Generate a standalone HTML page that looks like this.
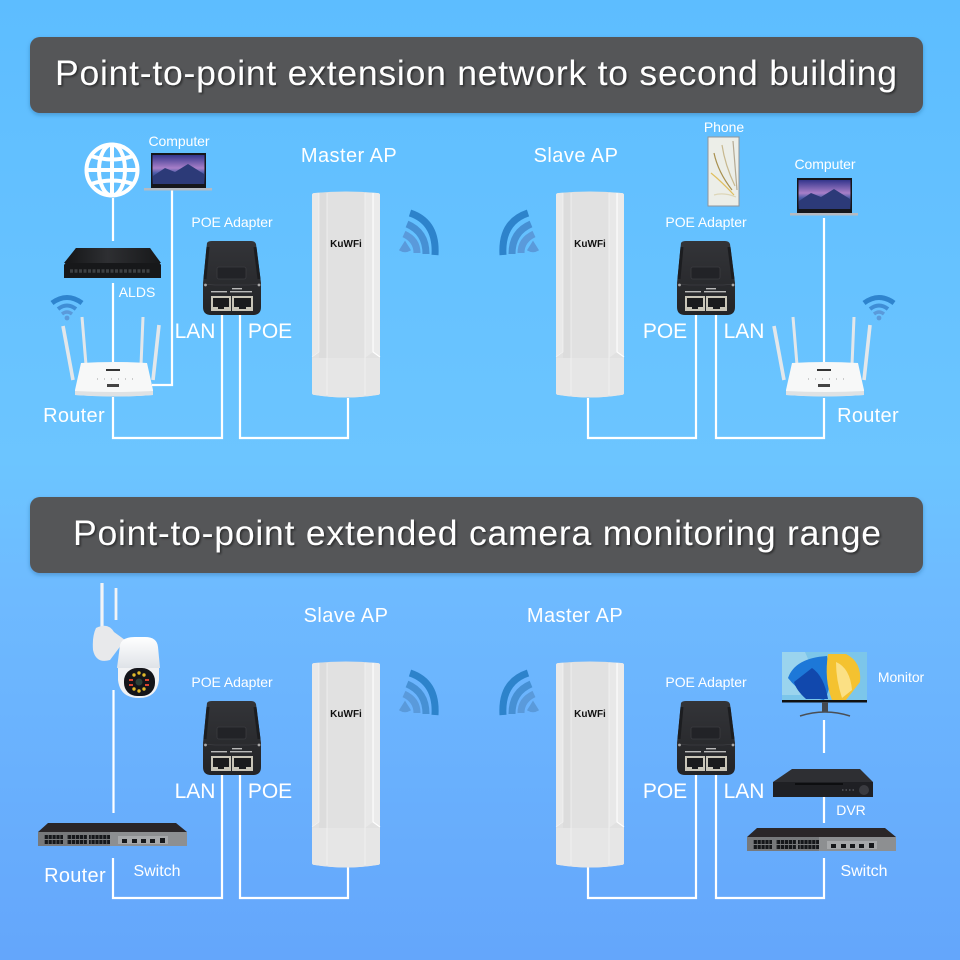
<!DOCTYPE html>
<html><head><meta charset="utf-8"><style>
html,body{margin:0;padding:0;width:960px;height:960px;overflow:hidden;background:#60bcff}
svg{display:block}
text{font-family:"Liberation Sans",sans-serif;fill:#fff;text-anchor:middle}
.h{font-size:35.5px;filter:url(#ts)}
.ap{font-size:20px;letter-spacing:.45px}.big{font-size:21px}.r{font-size:20px;letter-spacing:.3px}.s{font-size:14px;letter-spacing:-.05px}.m{font-size:14px}.sw{font-size:16px}
.l{fill:none;stroke:#fff;stroke-width:2.2}
</style></head><body>
<svg width="960" height="960" viewBox="0 0 960 960" xmlns="http://www.w3.org/2000/svg">
<defs>
<linearGradient id="bg" x1="0" y1="0" x2="0" y2="1">
<stop offset="0" stop-color="#5dbdff"/><stop offset=".48" stop-color="#6cc5ff"/><stop offset=".62" stop-color="#6ebaff"/><stop offset="1" stop-color="#64a6fb"/></linearGradient>
<linearGradient id="adg" x1="0" y1="0" x2="0" y2="1"><stop offset="0" stop-color="#333438"/><stop offset="1" stop-color="#232427"/></linearGradient>
<linearGradient id="scr" x1="0" y1="0" x2="0" y2="1"><stop offset="0" stop-color="#33358c"/><stop offset=".45" stop-color="#a87fc8"/><stop offset=".62" stop-color="#4c5ca8"/><stop offset="1" stop-color="#1d2450"/></linearGradient>
<linearGradient id="dome" x1="0" y1="0" x2="0" y2="1"><stop offset="0" stop-color="#fff"/><stop offset="1" stop-color="#dfe3e8"/></linearGradient>
<linearGradient id="ald" x1="0" y1="0" x2="1" y2="0"><stop offset="0" stop-color="#141517"/><stop offset=".45" stop-color="#2e2f32"/><stop offset="1" stop-color="#17181a"/></linearGradient>
<filter id="ts" x="-5%" y="-30%" width="110%" height="160%"><feDropShadow dx="1.5" dy="1.5" stdDeviation="1" flood-color="#000" flood-opacity=".5"/></filter>
<filter id="bs" x="-5%" y="-20%" width="110%" height="140%"><feDropShadow dx="0" dy="2" stdDeviation="2" flood-color="#1d4f80" flood-opacity=".35"/></filter>

<g id="adapter">
<path d="M4 2Q5 0 9 0H48Q52 0 53 3L58 42V66Q58 74 50 74H8Q0 74 0 66V42Z" fill="url(#adg)"/>
<path d="M5 6L2 38M52 6L56 38" stroke="#1c1d20" stroke-width="3" fill="none"/>
<rect x="14" y="26" width="29" height="12" rx="2" fill="#222327" stroke="#3b3c40" stroke-width=".8"/>
<path d="M0 43L12 44H46L58 43" fill="none" stroke="#3c3d41" stroke-width=".8"/>
<circle cx="2.500" cy="44" r="1.400" fill="#aaa"/><circle cx="56" cy="44" r="1.400" fill="#aaa"/>
<rect x="8" y="55" width="20" height="15" fill="#c9c5b8"/><rect x="29" y="55" width="21" height="15" fill="#c9c5b8"/>
<path d="M10 57H26V66H21V68H15V66H10Z" fill="#1b1b1d"/><path d="M31 57H48V66H43V68H36V66H31Z" fill="#1b1b1d"/>
<rect x="8" y="50" width="16" height="1.400" fill="#b9b9b9"/><rect x="27" y="50" width="22" height="1.400" fill="#b9b9b9"/><rect x="29" y="47" width="10" height="1.400" fill="#b9b9b9"/>
</g>

<g id="ap">
<path d="M0 3Q0 1 3 1Q34 -2 65 1Q68 1 68 3V201Q68 203 65 203Q34 208 3 203Q0 203 0 201Z" fill="#e1e1e1"/>
<path d="M0 3Q0 1 3 1L7 .8V160L0 165Z" fill="#e9e9e9"/>
<path d="M7 .8L15 .4V166H7Z" fill="#dcdcdc"/>
<path d="M53 .4L61 .8V160L53 166Z" fill="#e8e8e8"/>
<path d="M61 .8L65 1Q68 1 68 3V165L61 160Z" fill="#ebebeb"/>
<path d="M0 166H68V201Q68 203 65 203Q34 208 3 203Q0 203 0 201Z" fill="#e6e6e6"/>
<path d="M7 1V160L0 165M15 1V203M53 1V203" fill="none" stroke="#f4f4f4" stroke-width=".7"/>
<path d="M61 1V160L68 165" fill="none" stroke="#fff" stroke-width="1.100"/>
</g>

<g id="wifi" fill="none" stroke-width="7">
<path d="M410 213Q437 222 435 255" stroke="#2d83cb"/>
<path d="M407 224Q426 232 426 254" stroke="#4690d4"/>
<path d="M404 234Q417 240 417 253" stroke="#5a9adb"/>
<path d="M400 250L405 242L410 250Q405 253 400 250Z" fill="#5a9adb" stroke="#5a9adb" stroke-width="1.500"/>
</g>

<g id="router">
<path d="M63 326L73 380" stroke="#e3e7ea" stroke-width="3.600"/><path d="M82 317L86 365" stroke="#e3e7ea" stroke-width="3"/>
<path d="M143 317L141 365" stroke="#e3e7ea" stroke-width="3"/><path d="M159 325L153 380" stroke="#e3e7ea" stroke-width="3.600"/>
<path d="M81 363Q114 361 147 363L153 390V395Q114 398 75 395V390Z" fill="#f7f8f8"/>
<path d="M75 391Q114 393 153 391V395Q114 398 75 395Z" fill="#dfe2e4"/>
<rect x="106" y="369" width="14" height="2" fill="#333"/>
<path d="M97 379h.8M104 379h.8M111 379h.8M118 379h.8M125 379h.8M132 379h.8" stroke="#888" stroke-width="1"/>
<rect x="107" y="384" width="12" height="3" fill="#444"/>
</g>

<g id="rwifi">
<path d="M0 6Q15 -5 30 6" stroke="#2e84ce" stroke-width="5" fill="none"/>
<path d="M6 12Q15 5 24 12" stroke="#3f8ed6" stroke-width="4" fill="none"/>
<path d="M10 17Q15 13 20 17" stroke="#5a9adb" stroke-width="3.400" fill="none"/>
<circle cx="15" cy="21" r="2.400" fill="#5a9adb"/>
</g>

<g id="switch">
<path d="M10 0H138L149 9H0Z" fill="#2a2628"/>
<rect x="0" y="9" width="149" height="14" fill="#77797b"/>
<rect x="72" y="9" width="77" height="14" fill="#8d8f91"/>
<g fill="#15171a">
<rect x="6" y="12" width="19" height="4"/><rect x="6" y="17" width="19" height="4"/>
<rect x="29" y="12" width="20" height="4"/><rect x="29" y="17" width="20" height="4"/>
<rect x="51" y="12" width="21" height="4"/><rect x="51" y="17" width="21" height="4"/>
</g>
<path d="M6 14H72M6 19H72" stroke="#77797b" stroke-width="8" stroke-dasharray=".7 3.200" fill="none"/>
<rect x="80" y="13" width="50" height="8" fill="#a6a8aa"/>
<g fill="#15171a"><rect x="84" y="16" width="5" height="4"/><rect x="94" y="16" width="5" height="4"/><rect x="103" y="16" width="5" height="4"/><rect x="112" y="16" width="5" height="4"/><rect x="122" y="15" width="5" height="5"/></g>
</g>
</defs>

<rect width="960" height="960" fill="url(#bg)"/>

<rect x="30" y="37" width="893" height="76" rx="10" fill="#555659" filter="url(#bs)"/>
<text class="h" x="476" y="85" textLength="842" lengthAdjust="spacing">Point-to-point extension network to second building</text>
<rect x="30" y="497" width="893" height="76" rx="10" fill="#555659" filter="url(#bs)"/>
<text class="h" x="477" y="545" textLength="808" lengthAdjust="spacing">Point-to-point extended camera monitoring range</text>

<!-- connectors -->
<path class="l" d="M113 198V241M113 283V362M113 397V438H222V310M240 310V438H348V398M172 190V385H152"/>
<path class="l" d="M588 398V438H696V310M716 310V438H824V398M824 218V363"/>
<path class="l" d="M113.500 690V813M113 858V898H222V770M240 770V898H348V858"/>
<path class="l" d="M588 858V898H696V770M716 770V898H824V858M824 720V753M824 790V823"/>

<!-- panel 1 left -->
<g fill="none" stroke="#fff" stroke-width="4">
<circle cx="112" cy="170" r="25.500"/><ellipse cx="112" cy="170" rx="13" ry="25.500"/>
<path d="M112 145V195M87 170H137M91 156Q112 163 133 156M91 184Q112 177 133 184"/>
</g>
<g id="lap1">
<rect x="151" y="153" width="55" height="35" fill="#15161a"/>
<rect x="152.500" y="155" width="52" height="29" fill="url(#scr)"/>
<path d="M153 176L165 168L175 172L188 164L204 174V184H153Z" fill="#2c3a78"/>
<rect x="144" y="188" width="68" height="2.500" fill="#b4bac2"/>
</g>
<path d="M76 248H150L161 265V278H64V265Z" fill="#17181a"/>
<path d="M76 248H150L161 263H64Z" fill="url(#ald)"/>
<path d="M70 271H150" stroke="#3e4043" stroke-width="3.500" stroke-dasharray="3 1.500"/>
<use href="#router"/>
<use href="#rwifi" transform="translate(52,297)"/>
<use href="#adapter" transform="translate(203,241)"/>
<use href="#ap" transform="translate(312,192)"/>
<use href="#wifi"/>

<!-- panel 1 right -->
<use href="#wifi" transform="matrix(-1 0 0 1 938 0)"/>
<use href="#ap" transform="translate(556,192)"/>
<use href="#adapter" transform="translate(677,241)"/>
<rect x="708" y="137" width="31" height="69" fill="#eceee8" stroke="#8f949a" stroke-width="1"/>
<g fill="none" stroke-width="1.200">
<path d="M714 153Q718 172 732 190" stroke="#a8904f"/><path d="M722 145Q725 165 735 186" stroke="#c7b88f"/><path d="M711 173Q722 182 734 195" stroke="#e0bf5f"/><path d="M733 141Q735 165 737 190" stroke="#b5aa94"/><path d="M714 195Q724 192 736 197" stroke="#ddd6b8"/>
</g>
<use href="#lap1" transform="translate(646,25)"/>
<use href="#router" transform="translate(711,0)"/>
<use href="#rwifi" transform="translate(864,297)"/>

<!-- panel 2 left -->
<path d="M102 583V630" stroke="#f2f4f6" stroke-width="3.200"/><path d="M116 588V620" stroke="#f2f4f6" stroke-width="2.800"/>
<path d="M96 628Q108 622 114 632L125 640L110 660Q96 664 93 650Q92 636 96 628Z" fill="#e8e9eb"/>
<path d="M120 645Q122 637 135 637H145Q157 637 158 647L160 668H117Z" fill="url(#dome)"/>
<path d="M118 668H159V680Q157 698 139 698Q120 698 118 680Z" fill="#f1f2f4"/>
<rect x="124" y="668" width="31" height="28" rx="13" fill="#14151a"/>
<g fill="#e0b92a"><circle cx="134" cy="675" r="1.700"/><circle cx="139" cy="673" r="1.700"/><circle cx="144" cy="675" r="1.700"/><circle cx="134" cy="689" r="1.700"/><circle cx="139" cy="691" r="1.700"/><circle cx="144" cy="689" r="1.700"/></g>
<g fill="#d8432f"><rect x="129" y="679" width="4" height="2"/><rect x="145" y="679" width="4" height="2"/><rect x="129" y="684" width="4" height="2"/><rect x="145" y="684" width="4" height="2"/></g>
<circle cx="139" cy="682" r="3.500" fill="#2b4038"/>
<use href="#switch" transform="translate(38,823)"/>
<use href="#adapter" transform="translate(203,701)"/>
<use href="#ap" transform="translate(312,662)"/>
<use href="#wifi" transform="translate(0,460)"/>

<!-- panel 2 right -->
<use href="#wifi" transform="matrix(-1 0 0 1 938 460)"/>
<use href="#ap" transform="translate(556,662)"/>
<use href="#adapter" transform="translate(677,701)"/>
<rect x="782" y="652" width="85" height="50" fill="#7cc6ea"/>
<path d="M782 652H805L815 675L800 695H782Z" fill="#9ad4ee"/>
<path d="M827 656Q795 658 788 678Q802 696 824 700Q832 688 829 670Z" fill="#1d78d8"/>
<path d="M812 668Q824 676 828 699H806Q796 690 794 682Z" fill="#1148ad"/>
<path d="M828 654H846Q862 662 860 682L846 700H832Q824 680 828 654Z" fill="#f4c230"/>
<path d="M836 662Q850 668 852 690L842 698Q836 680 836 662Z" fill="#fbe084"/>
<rect x="782" y="700" width="85" height="2.500" fill="#111"/>
<path d="M822 702H828V712H822Z" fill="#44494f"/>
<path d="M800 716Q825 708 850 716" fill="none" stroke="#4a4f55" stroke-width="1.500"/>
<path d="M792 769H860L873 782V797H773V782Z" fill="#2e2f33"/>
<path d="M773 782H873V797H773Z" fill="#1f2024"/>
<rect x="795" y="783" width="48" height="2" fill="#0d0e10"/>
<path d="M842 790h12" stroke="#55575c" stroke-width="1.500" stroke-dasharray="1.500 2"/>
<circle cx="864" cy="790" r="5" fill="#3a3b40"/>
<use href="#switch" transform="translate(747,828)"/>

<!-- labels -->
<g>
<text class="ap" x="349" y="162">Master AP</text>
<text class="ap" x="576" y="162">Slave AP</text>
<text class="ap" x="346" y="622">Slave AP</text>
<text class="ap" x="575" y="622">Master AP</text>
<text class="s" x="179" y="146">Computer</text>
<text class="s" x="232" y="227">POE Adapter</text>
<text class="m" x="137" y="297">ALDS</text>
<text class="big" x="195" y="338">LAN</text>
<text class="big" x="270" y="338">POE</text>
<text class="r" x="74" y="422">Router</text>
<text class="s" x="724" y="132">Phone</text>
<text class="s" x="825" y="169">Computer</text>
<text class="s" x="706" y="227">POE Adapter</text>
<text class="big" x="665" y="338">POE</text>
<text class="big" x="744" y="338">LAN</text>
<text class="r" x="868" y="422">Router</text>
<text class="s" x="232" y="687">POE Adapter</text>
<text class="big" x="195" y="798">LAN</text>
<text class="big" x="270" y="798">POE</text>
<text class="r" x="75" y="882">Router</text>
<text class="sw" x="157" y="876">Switch</text>
<text class="s" x="706" y="687">POE Adapter</text>
<text class="big" x="665" y="798">POE</text>
<text class="big" x="744" y="798">LAN</text>
<text class="s" x="901" y="682">Monitor</text>
<text class="m" x="851" y="815">DVR</text>
<text class="sw" x="864" y="876">Switch</text>
<g font-weight="bold">
<text x="346" y="247" style="fill:#111;font-size:10px">KuWFi</text><text x="590" y="247" style="fill:#111;font-size:10px">KuWFi</text>
<text x="346" y="717" style="fill:#111;font-size:10px">KuWFi</text><text x="590" y="717" style="fill:#111;font-size:10px">KuWFi</text>
</g>
</g>
</svg>
</body></html>
